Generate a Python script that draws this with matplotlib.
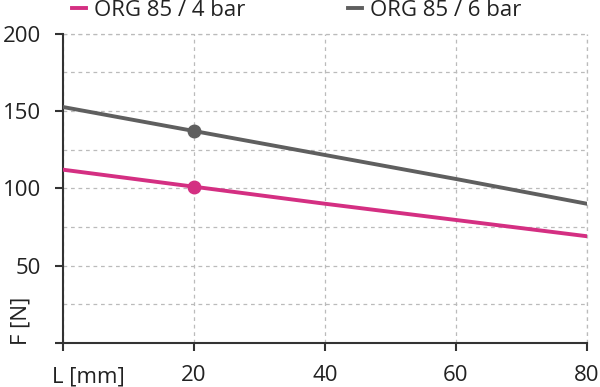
import numpy as np
import matplotlib.pyplot as plt

plt.rcParams['font.family'] = ['Open Sans', 'DejaVu Sans']

length = [0, 20, 40, 60, 80]
force_4bar = [112, 101, 90, 79.5, 69]
force_6bar = [152.5, 137, 121.5, 106, 90]
marker_x = 20
labels = ["ORG 85 / 4 bar", "ORG 85 / 6 bar"]
pink = "#d42f82"
grey = "#5f5f5f"
fs = 16

fig = plt.figure(figsize=(6, 3.87), dpi=100)
ax = fig.add_axes([0.105, 0.1137, 0.873, 0.7997])

for ys, c, lab in [(force_4bar, pink, labels[0]), (force_6bar, grey, labels[1])]:
    ax.plot(length, ys, color=c, lw=2.8, label=lab, zorder=3)
    i = length.index(marker_x)
    ax.plot([length[i]], [ys[i]], "o", color=c, ms=9, zorder=4)

ax.set_xlim(0, 80)
ax.set_ylim(0, 200)
ax.set_xticks([0, 20, 40, 60, 80])
ax.set_xticklabels(["", "20", "40", "60", "80"])
ax.set_yticks([0, 50, 100, 150, 200])
ax.set_yticklabels(["", "50", "100", "150", "200"])
ax.set_yticks([25, 75, 125, 175], minor=True)
ax.tick_params(which="minor", length=0)
ax.tick_params(which="major", length=5.5, width=1.5, color="#333333",
               labelsize=fs, labelcolor="#222222")
ax.tick_params(axis="y", pad=10)
ax.tick_params(axis="x", pad=10)

ax.grid(True, which="both", axis="y", ls=(0, (3, 3)), color="#bbbbbb", lw=0.9)
ax.grid(True, which="major", axis="x", ls=(0, (3, 3)), color="#bbbbbb", lw=0.9)
ax.spines["right"].set_visible(False)
ax.spines["top"].set_visible(False)
for s in ["left", "bottom"]:
    ax.spines[s].set_linewidth(1.5)
    ax.spines[s].set_color("#333333")

# dashed frame lines on top and right
ax.axhline(200, ls=(0, (3, 3)), color="#bbbbbb", lw=0.9, clip_on=False)
ax.axvline(80, ls=(0, (3, 3)), color="#bbbbbb", lw=0.9, clip_on=False)

fig.text(52 / 600, 5 / 387, "L [mm]", fontsize=fs, color="#222222", ha="left", va="baseline")
fig.text(21 / 600, 42 / 387, "F [N]", fontsize=fs, color="#222222", rotation=90,
         ha="center", va="bottom")

fig.legend(*ax.get_legend_handles_labels(), loc="center left",
           bbox_to_anchor=(72 / 600, 1 - 10 / 387), ncol=2, frameon=False,
           fontsize=fs, handlelength=0.65, handletextpad=0.35, columnspacing=4.6,
           borderpad=0, borderaxespad=0, labelcolor="#222222")

fig.savefig("out.png", dpi=100)
